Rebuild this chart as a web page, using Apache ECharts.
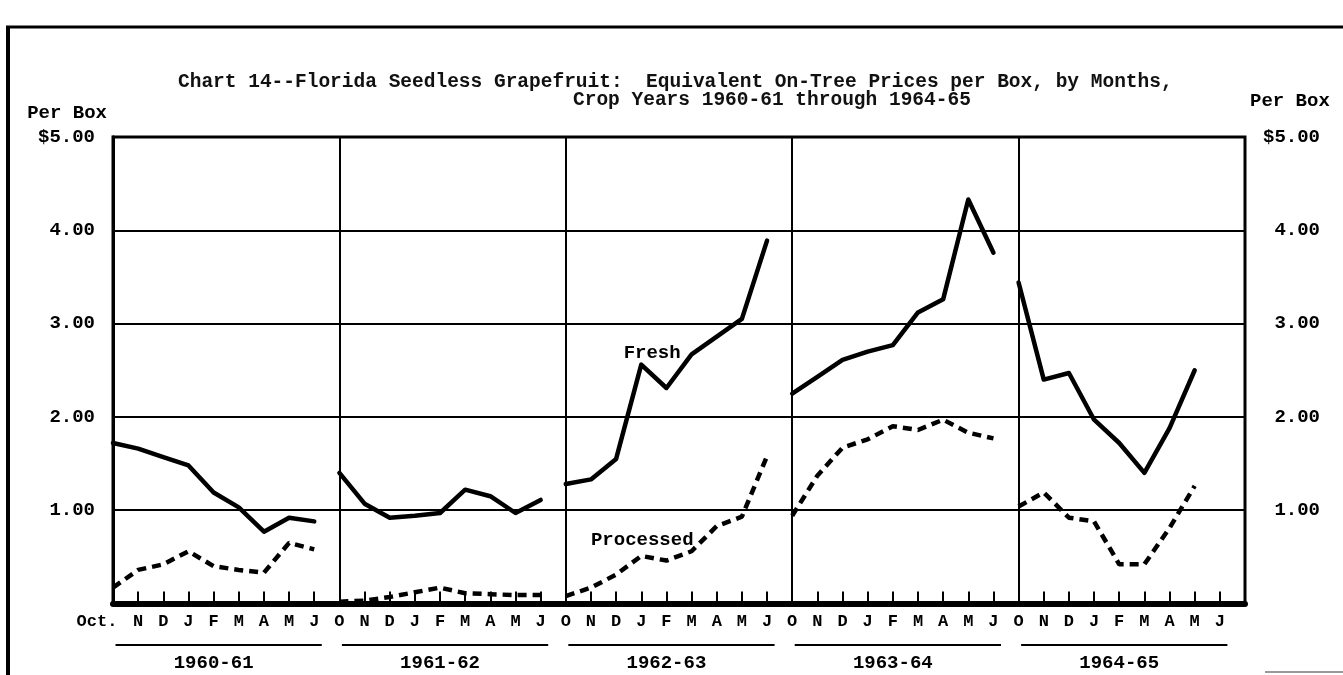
<!DOCTYPE html>
<html><head><meta charset="utf-8">
<script src="https://cdn.jsdelivr.net/npm/echarts@6/dist/echarts.min.js"></script>
<style>html,body{margin:0;padding:0;background:#fff}#c{width:1343px;height:675px}</style>
</head><body><div id="c"></div>
<script>
// ---- data ----
var cropYears = ['1960-61', '1961-62', '1962-63', '1963-64', '1964-65'];
var monthLabels = ['O', 'N', 'D', 'J', 'F', 'M', 'A', 'M', 'J'];
var firstMonthLabel = 'Oct.';
var yTickLabels = ['', '1.00', '2.00', '3.00', '4.00', '$5.00'];
var yAxisName = 'Per Box';
var titleLine1 = 'Chart 14--Florida Seedless Grapefruit:  Equivalent On-Tree Prices per Box, by Months,';
var titleLine2 = 'Crop Years 1960-61 through 1964-65';
var freshLabel = 'Fresh';
var processedLabel = 'Processed';

// monthly prices, Oct..Jun, per crop year
var fresh1960 = [1.72, 1.66, 1.57, 1.48, 1.19, 1.03, 0.77, 0.92, 0.88];
var fresh1961 = [1.40, 1.07, 0.92, 0.94, 0.97, 1.22, 1.15, 0.97, 1.11];
var fresh1962 = [1.28, 1.33, 1.55, 2.56, 2.31, 2.67, 2.86, 3.05, 3.89];
var fresh1963 = [2.25, 2.43, 2.61, 2.70, 2.77, 3.12, 3.26, 4.33, 3.76];
var fresh1964 = [3.44, 2.40, 2.47, 1.97, 1.72, 1.40, 1.88, 2.50, null];

var proc1960 = [0.17, 0.36, 0.42, 0.56, 0.40, 0.36, 0.33, 0.65, 0.58];
var proc1961 = [0.02, 0.03, 0.07, 0.12, 0.17, 0.11, 0.10, 0.09, 0.09];
var proc1962 = [0.08, 0.17, 0.31, 0.51, 0.46, 0.56, 0.83, 0.93, 1.58];
var proc1963 = [0.94, 1.37, 1.67, 1.76, 1.90, 1.86, 1.97, 1.83, 1.77];
var proc1964 = [1.04, 1.19, 0.92, 0.88, 0.42, 0.42, 0.81, 1.26, null];

var freshAll = [fresh1960, fresh1961, fresh1962, fresh1963, fresh1964];
var procAll = [proc1960, proc1961, proc1962, proc1963, proc1964];

// ---- chart ----
var FONT = '"Liberation Mono", "Courier New", monospace';
var NM = monthLabels.length; // months per crop year panel
var XMAX = NM * cropYears.length;

function toPairs(arr, p) {
  var out = [];
  arr.forEach(function (v, m) { if (v != null) out.push([p * NM + m, v]); });
  return out;
}

var series = [];
freshAll.forEach(function (arr, p) {
  series.push({
    type: 'line', name: 'Fresh ' + cropYears[p], data: toPairs(arr, p),
    showSymbol: false, silent: true, z: 5,
    lineStyle: { color: '#000', width: 4.5, cap: 'round', join: 'round' }
  });
});
procAll.forEach(function (arr, p) {
  series.push({
    type: 'line', name: 'Processed ' + cropYears[p], data: toPairs(arr, p),
    showSymbol: false, silent: true, z: 5,
    lineStyle: { color: '#000', width: 4.5, type: [9, 6], cap: 'butt' }
  });
});

var chart = echarts.init(document.getElementById('c'), null, { renderer: 'canvas' });
var option = {
  backgroundColor: '#fff',
  animation: false,
  title: [
    { text: titleLine1, left: 173, top: 67, textStyle: { fontFamily: FONT, fontSize: 19.5, fontWeight: 'bold', color: '#111' } },
    { text: titleLine2, left: 568, top: 85, textStyle: { fontFamily: FONT, fontSize: 19.5, fontWeight: 'bold', color: '#111' } }
  ],
  grid: { left: 113, right: 98, top: 137, bottom: 71.5, show: true, borderColor: '#000', borderWidth: 3, containLabel: false },
  xAxis: [
    {
      type: 'value', min: 0, max: XMAX, interval: 1, position: 'bottom',
      axisLine: { show: true, onZero: false, lineStyle: { color: '#000', width: 6 } },
      axisTick: { show: true, inside: true, length: 12, lineStyle: { color: '#000', width: 2 } },
      splitLine: { show: false },
      axisLabel: {
        show: true, margin: 10, color: '#000', fontFamily: FONT, fontSize: 17, fontWeight: 'bold',
        showMinLabel: true, showMaxLabel: true,
        formatter: function (v) {
          var i = Math.round(v);
          if (i === 0) return '{oct|' + firstMonthLabel + '}';
          if (i >= XMAX) return '';
          return monthLabels[i % NM];
        },
        rich: { oct: { fontFamily: FONT, fontSize: 17, fontWeight: 'bold', color: '#000', padding: [0, 32, 0, 0] } }
      }
    },
    {
      type: 'value', min: 0, max: XMAX, interval: NM, position: 'bottom',
      axisLine: { show: false }, axisTick: { show: false }, axisLabel: { show: false },
      splitLine: { show: true, lineStyle: { color: '#000', width: 2 } }
    }
  ],
  yAxis: [
    {
      type: 'value', min: 0, max: 5, interval: 1, position: 'left',
      axisLine: { show: true, lineStyle: { color: '#000', width: 3 } },
      axisTick: { show: false },
      splitLine: { show: true, lineStyle: { color: '#000', width: 1.8 } },
      axisLabel: {
        margin: 18, color: '#000', fontFamily: FONT, fontSize: 19, fontWeight: 'bold',
        formatter: function (v) { return yTickLabels[Math.round(v)]; }
      }
    },
    {
      type: 'value', min: 0, max: 5, interval: 1, position: 'right',
      axisLine: { show: true, lineStyle: { color: '#000', width: 3 } },
      axisTick: { show: false },
      splitLine: { show: false },
      axisLabel: {
        margin: 75, align: 'right', color: '#000', fontFamily: FONT, fontSize: 19, fontWeight: 'bold',
        formatter: function (v) { return yTickLabels[Math.round(v)]; }
      }
    }
  ],
  series: series
};
chart.setOption(option);

// year labels, overlines, axis names, annotations and frame placed through the chart's own scales
function txt(s, x, y, align) {
  return { type: 'text', silent: true, x: x, y: y, z: 10, style: { text: s, fill: '#000', font: 'bold 19px ' + FONT, align: align, verticalAlign: 'middle', textAlign: align, textVerticalAlign: 'middle' } };
}
var g = [];
cropYears.forEach(function (y, p) {
  var xc = chart.convertToPixel({ xAxisIndex: 0 }, p * NM + 4);
  var xa = chart.convertToPixel({ xAxisIndex: 0 }, p * NM + 0.1);
  var xb = chart.convertToPixel({ xAxisIndex: 0 }, p * NM + 8.3);
  g.push({ type: 'line', silent: true, shape: { x1: xa, y1: 645, x2: xb, y2: 645 }, style: { stroke: '#000', lineWidth: 2 } });
  g.push(txt(y, xc, 663, 'center'));
});
var pF = chart.convertToPixel({ gridIndex: 0 }, [20.3, 2.68]);
var pP = chart.convertToPixel({ gridIndex: 0 }, [19.0, 0.68]);
g.push(txt(freshLabel, pF[0], pF[1], 'left'));
g.push(txt(processedLabel, pP[0], pP[1], 'left'));
var xL = chart.convertToPixel({ xAxisIndex: 0 }, 0);
var xR = chart.convertToPixel({ xAxisIndex: 0 }, XMAX);
var yTop = chart.convertToPixel({ yAxisIndex: 0 }, 5);
g.push(txt(yAxisName, xL - 6, yTop - 24, 'right'));
g.push(txt(yAxisName, xR + 5, yTop - 36, 'left'));
// page frame
g.push({ type: 'line', silent: true, shape: { x1: 6, y1: 27, x2: 1343, y2: 27 }, style: { stroke: '#000', lineWidth: 3 } });
g.push({ type: 'line', silent: true, shape: { x1: 8, y1: 26, x2: 8, y2: 675 }, style: { stroke: '#000', lineWidth: 4 } });
g.push({ type: 'line', silent: true, shape: { x1: 1265, y1: 672, x2: 1343, y2: 672 }, style: { stroke: '#999', lineWidth: 2 } });
chart.setOption({ graphic: g });
</script>
</body></html>
